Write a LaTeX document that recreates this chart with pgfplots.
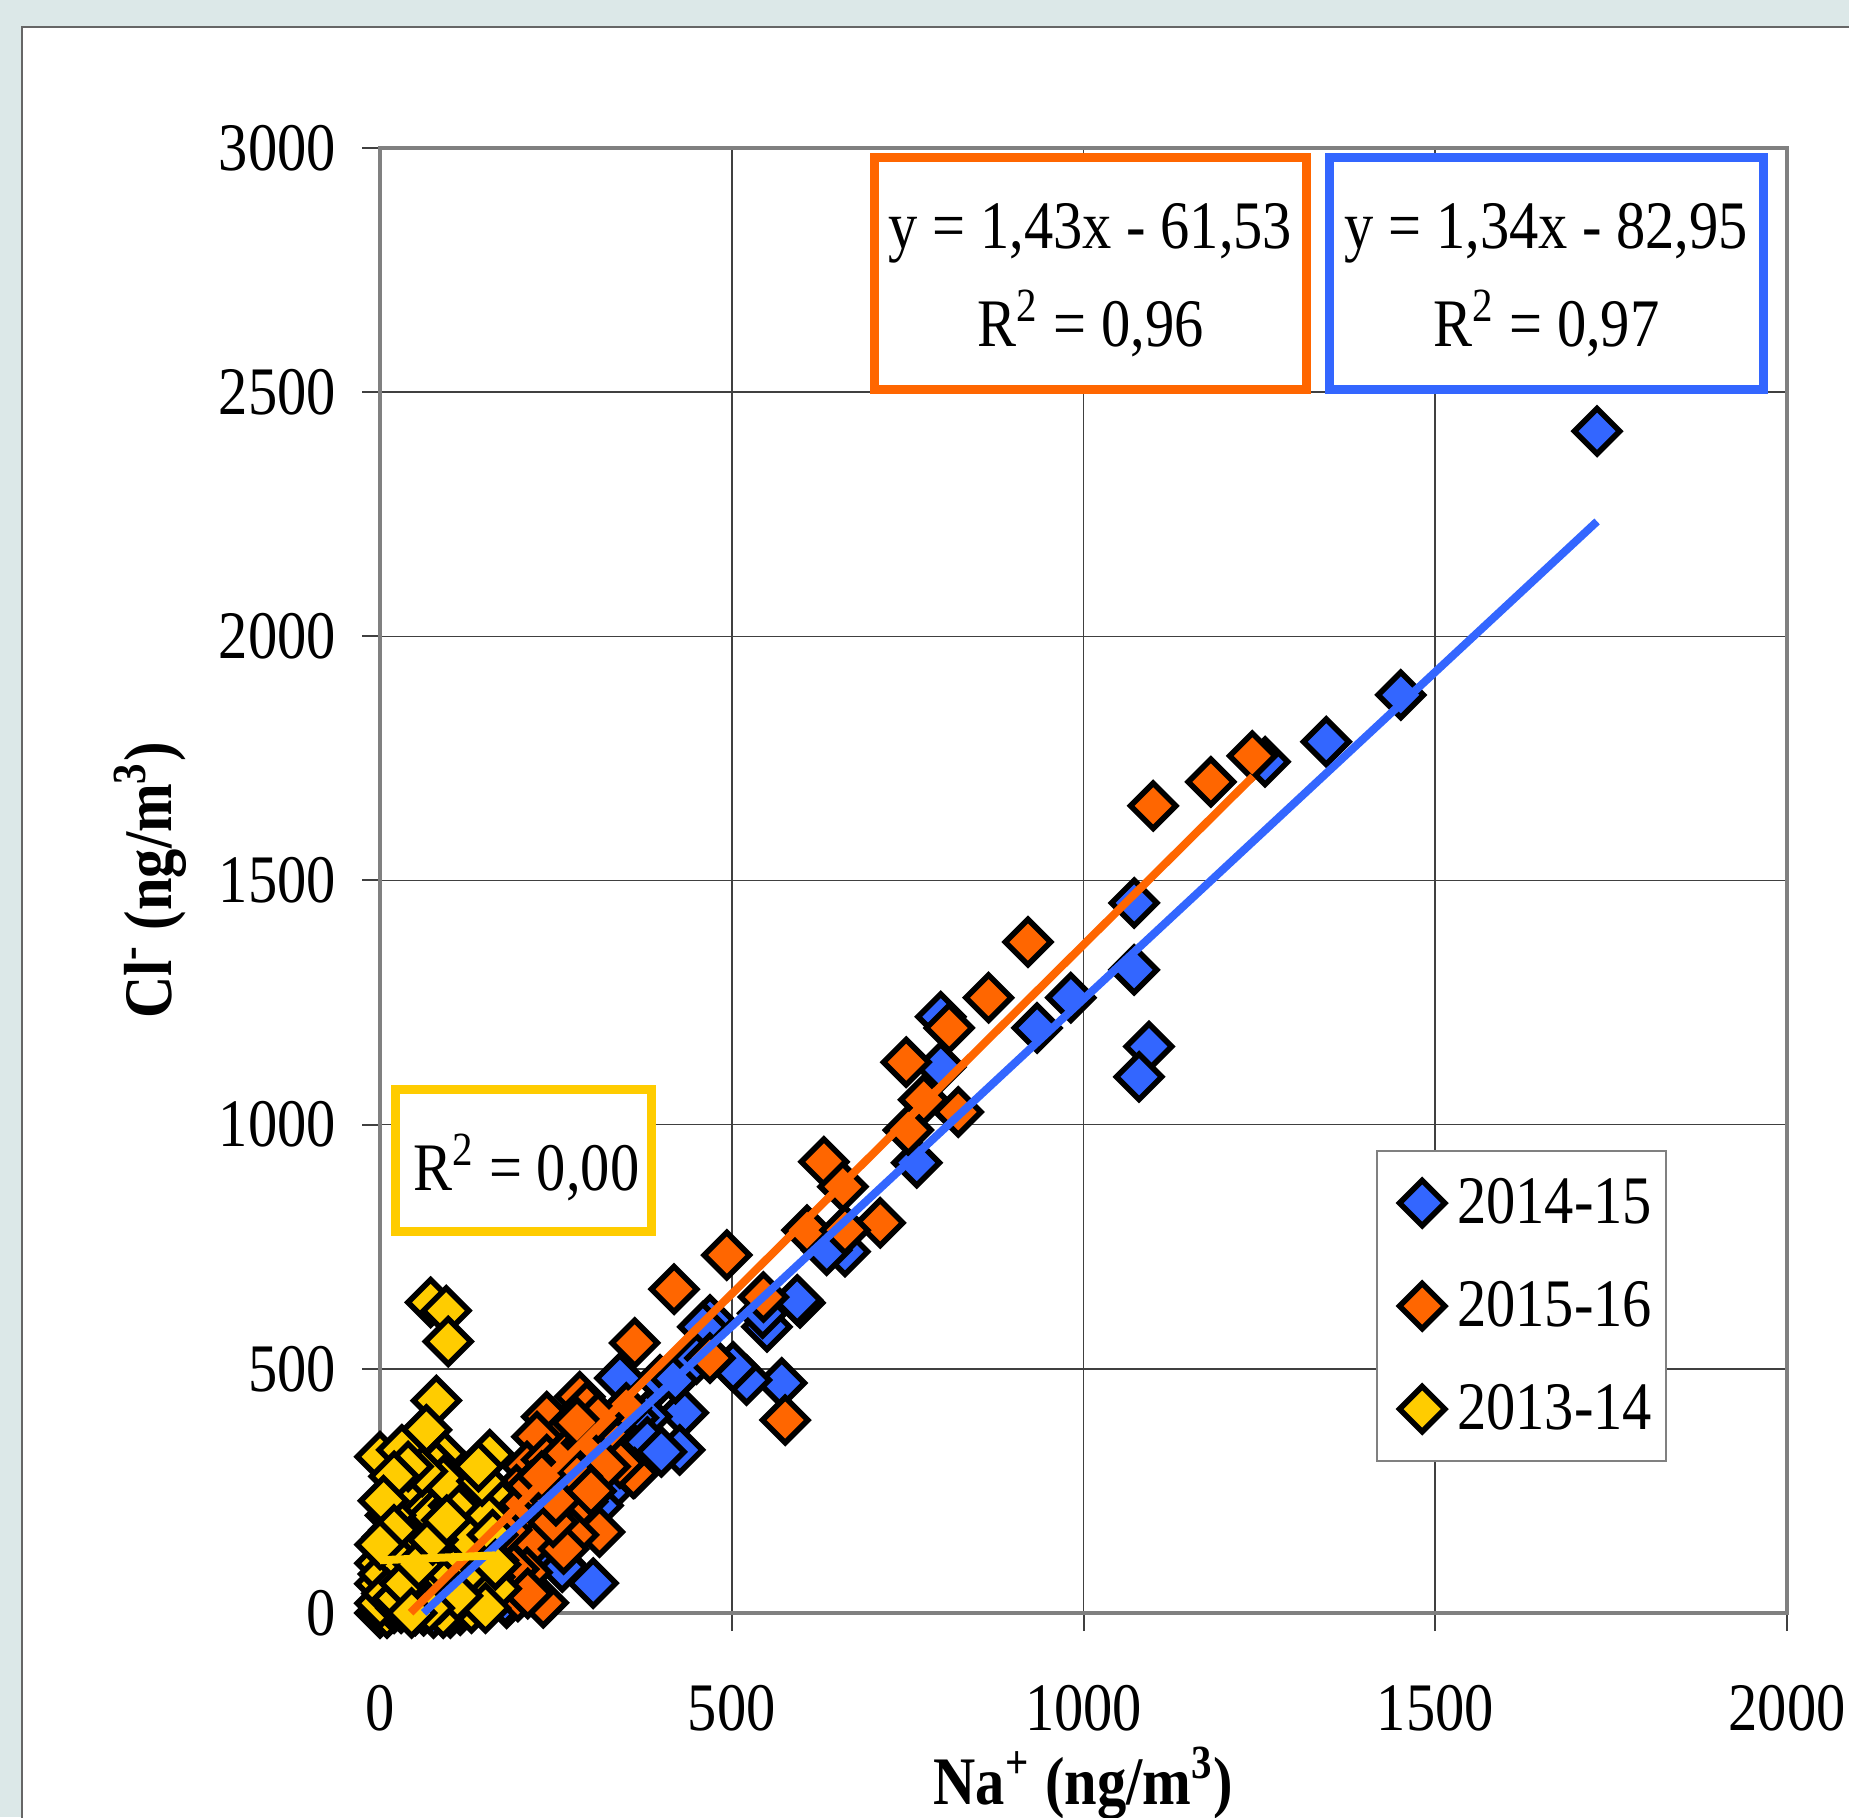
\documentclass[border=0pt]{standalone}
\usepackage{fontspec}
\setmainfont{Liberation Serif}[FakeStretch=0.86]
\usepackage{pgfplots}
\usepackage{pgfplotstable}
\pgfplotsset{compat=1.18}

\definecolor{cblue}{HTML}{3366FF}
\definecolor{corange}{HTML}{FF6600}
\definecolor{cyellow}{HTML}{FFCC00}
\definecolor{outer}{HTML}{DCE8E8}

% Na+ / Cl- pairs
\pgfplotstableread[row sep=\\]{
x y\\
1730 2420\\ 1451 1880\\ 1345 1784\\ 1258 1743\\ 1072 1454\\ 1072 1317\\
1093 1160\\ 1079 1098\\ 982 1260\\ 934 1198\\ 797 1221\\ 797 1118\\
763 922\\ 661 740\\ 635 743\\ 597 635\\ 550 586\\ 544 614\\ 593 641\\
571 471\\ 521 477\\ 502 504\\ 469 600\\ 459 586\\ 431 410\\ 426 334\\
398 477\\ 341 481\\ 379 402\\ 308 402\\ 322 246\\ 303 61\\ 256 102\\
180 20\\ 133 218\\ 76 0\\ 250 260\\ 280 300\\ 200 180\\ 150 100\\
120 40\\ 180 130\\ 330 330\\ 360 400\\ 300 330\\ 100 20\\ 230 220\\
270 160\\ 62 5\\ 178 27\\ 259 94\\ 121 217\\ 200 80\\ 230 140\\
270 200\\ 310 220\\ 350 300\\ 380 350\\ 420 480\\ 450 520\\ 400 330\\
}\tblue

\pgfplotstableread[row sep=\\]{
x y\\
1240 1755\\ 1181 1702\\ 1099 1653\\ 921 1374\\ 865 1260\\ 809 1198\\
748 1128\\ 773 1051\\ 822 1026\\ 751 989\\ 631 924\\ 658 873\\ 711 799\\
607 784\\ 661 784\\ 493 733\\ 418 663\\ 362 553\\ 545 647\\ 469 522\\
576 395\\ 362 287\\ 237 402\\ 284 443\\ 294 422\\ 270 381\\ 223 361\\
209 300\\ 237 314\\ 265 327\\ 294 348\\ 360 286\\ 341 307\\ 288 228\\
312 166\\ 275 160\\ 218 145\\ 190 190\\ 209 83\\ 232 21\\ 261 131\\
246 186\\ 194 252\\ 180 218\\ 177 61\\ 196 34\\ 150 150\\ 120 90\\
100 50\\ 50 5\\ 260 260\\ 300 350\\ 320 300\\ 170 120\\ 180 170\\
200 230\\ 215 260\\ 160 100\\ 140 60\\ 190 90\\ 210 40\\ 250 230\\
280 280\\ 230 280\\ 300 250\\ 330 380\\ 350 420\\ 310 400\\ 280 390\\
}\torange

\pgfplotstableread[row sep=\\]{
x y\\
72 636\\ 94 619\\ 97 556\\ 80 435\\ 66 375\\ 0 320\\ 31 334\\ 92 320\\
156 324\\ 97 252\\ 156 246\\ 50 252\\ 108 190\\ 137 204\\ 97 156\\
11 156\\ 34 183\\ 66 210\\ 161 108\\ 156 74\\ 0 102\\ 128 41\\ 152 37\\
114 6\\ 100 0\\ 0 0\\ 10 0\\ 20 10\\ 28 61\\ 57 115\\ 76 74\\ 43 20\\
40 30\\ 0 20\\ 30 10\\ 60 40\\ 80 70\\ 120 20\\ 140 40\\ 130 10\\ 90 0\\
50 80\\ 70 120\\ 110 130\\ 130 170\\ 20 130\\ 40 90\\ 0 60\\ 150 200\\
120 280\\ 80 300\\ 30 250\\ 60 170\\ 100 100\\ 5 80\\ 45 140\\ 75 200\\
85 30\\ 115 60\\ 25 110\\ 10 40\\ 25 30\\ 50 50\\ 65 20\\ 85 50\\
100 80\\ 120 110\\ 140 120\\ 150 90\\ 135 60\\ 125 150\\ 105 220\\
90 270\\ 60 290\\ 40 300\\ 20 280\\ 15 200\\ 5 230\\ 35 60\\ 55 100\\
75 150\\ 95 190\\ 145 270\\ 160 160\\ 165 50\\ 150 10\\ 110 35\\ 70 10\\
45 0\\ 140 300\\ 20 170\\ 0 140\\ 164 99\\
}\tyellow

\begin{document}
\begin{tikzpicture}
\fill[outer] (0,0) rectangle (462.25pt,454.25pt);
\filldraw[fill=white, draw=black!60, line width=0.5pt] (5.5pt,-5pt) rectangle (475pt,447.5pt);
\begin{axis}[
  at={(95pt,51pt)}, anchor=south west,
  width=351.75pt, height=366.25pt, scale only axis,
  xmin=0, xmax=2000, ymin=0, ymax=3000,
  xtick={0,500,...,2000}, ytick={0,500,...,3000},
  grid=major, major grid style={line width=0.4pt, black!75},
  axis line style={black!50, line width=1pt},
  tick align=outside, tick pos=left, major tick length=4.5pt,
  tick style={black!75, line width=0.5pt},
  ticklabel style={font=\fontsize{17}{20}\selectfont},
  /pgf/number format/assume math mode=true,
  /pgf/number format/1000 sep={},
  xticklabel style={yshift=-10pt},
  yticklabel style={xshift=-3pt},
  label style={font=\bfseries\fontsize{17}{20}\selectfont},
  xlabel={Na\textsuperscript{+} (ng/m\textsuperscript{3})},
  ylabel={Cl\textsuperscript{-} (ng/m\textsuperscript{3})},
  xlabel style={at={(axis description cs:0.5,-0.1304)}, anchor=base},
  ylabel style={at={(axis description cs:-0.1485,0.5)}, anchor=base, rotate=0},
  clip=false, clip mode=individual,
  legend style={at={(0.708,0.316)}, anchor=north west, draw=black!50,
    line width=0.5pt, font=\fontsize{17}{20}\selectfont,
    inner xsep=2.5pt, inner ysep=5.75pt, row sep=11.25pt,
    nodes={inner xsep=1pt, inner ysep=0pt, text height=12pt, text depth=2pt},
    cells={anchor=west}},
  legend image code/.code={\path (0pt,-7pt) (16pt,7pt);
    \draw[#1] plot coordinates {(8.5pt,0pt)};},
]
\addplot[only marks, mark=square*, mark size=4pt,
  mark options={rotate=45, draw=black, line width=1.4pt, fill=cblue}] table[x=x,y=y] {\tblue};
\addlegendentry{2014-15}
\addplot[only marks, mark=square*, mark size=4pt,
  mark options={rotate=45, draw=black, line width=1.4pt, fill=corange}] table[x=x,y=y] {\torange};
\addlegendentry{2015-16}
\addplot[only marks, mark=square*, mark size=4pt,
  mark options={rotate=45, draw=black, line width=1.4pt, fill=cyellow}] table[x=x,y=y] {\tyellow};
\addlegendentry{2013-14}

% trend lines
\addplot[forget plot, no marks, sharp plot, cblue, line width=2pt] coordinates {(62,0.13) (1730,2235.25)};
\addplot[forget plot, no marks, sharp plot, corange, line width=2pt] coordinates {(43.5,0.67) (1241,1713.1)};
\addplot[forget plot, no marks, sharp plot, cyellow, line width=2pt] coordinates {(0,108) (164,118)};

\node[draw=corange, line width=2.25pt, fill=white, minimum width=108pt, minimum height=58pt]
  at (axis cs:1010,2742) {};
\node[align=center, inner sep=0pt, font=\fontsize{17}{24.5}\selectfont]
  at (axis cs:1010,2730) {y = 1,43x - 61,53\\R\textsuperscript{2} = 0,96};
\node[draw=cblue, line width=2.25pt, fill=white, minimum width=108.5pt, minimum height=58pt]
  at (axis cs:1658,2742) {};
\node[align=center, inner sep=0pt, font=\fontsize{17}{24.5}\selectfont]
  at (axis cs:1658,2730) {y = 1,34x - 82,95\\R\textsuperscript{2} = 0,97};
\node[draw=cyellow, line width=2.25pt, fill=white, minimum width=64pt, minimum height=35.5pt]
  at (axis cs:204,927) {};
\node[inner sep=0pt, font=\fontsize{17}{20}\selectfont]
  at (axis cs:208,912) {R\textsuperscript{2} = 0,00};
\end{axis}
\pgfresetboundingbox
\path[use as bounding box] (0,0) rectangle (462.25pt,454.25pt);
\end{tikzpicture}
\end{document}
